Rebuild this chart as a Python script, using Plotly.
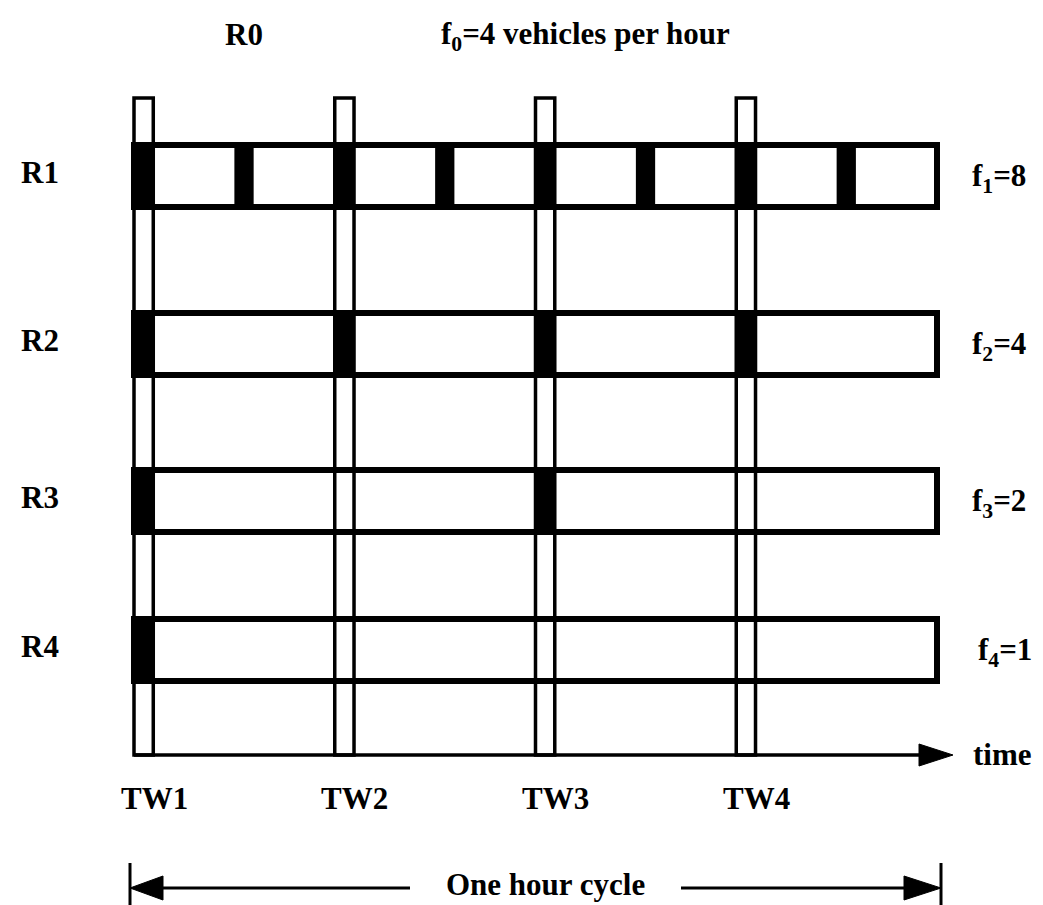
import plotly.graph_objects as go

# ---- data (times in hours) ----
ROUTES = ["R1", "R2", "R3", "R4"]
FREQUENCIES = [8, 4, 2, 1]          # vehicles per hour
R0_FREQUENCY = 4
TIME_WINDOWS = ["TW1", "TW2", "TW3", "TW4"]
TW_START = [0.0, 0.25, 0.5, 0.75]
R1_DEPARTURES = [0.0, 0.125, 0.25, 0.375, 0.5, 0.625, 0.75, 0.875]
R2_DEPARTURES = [0.0, 0.25, 0.5, 0.75]
R3_DEPARTURES = [0.0, 0.5]
R4_DEPARTURES = [0.0]
CYCLE = 1.0
DEPARTURES = [R1_DEPARTURES, R2_DEPARTURES, R3_DEPARTURES, R4_DEPARTURES]

# ---- layout ----
W, H = 1043, 905
X0_PX = 126
PX_PER_HOUR = 803
ROW_Y = [168, 336, 493, 642]
BOX_HALF = 31
DWELL = 0.024
TW_TOP = 90
AXIS_Y = 747
FONT = "Liberation Serif"


def hrs(px):
    """pixel length -> hours on the x axis"""
    return px / PX_PER_HOUR


def at(px):
    """pixel position -> hours on the x axis"""
    return (px - X0_PX) / PX_PER_HOUR


fig = go.Figure()
shapes = []

# time windows (thin outlined columns)
for tw in TW_START:
    shapes.append(dict(type="rect", x0=tw, x1=tw + DWELL, y0=TW_TOP, y1=AXIS_Y,
                       line=dict(color="black", width=3.5), fillcolor="rgba(0,0,0,0)"))

# departure marks
for y, deps in zip(ROW_Y, DEPARTURES):
    for d in deps:
        shapes.append(dict(type="rect", x0=d, x1=d + DWELL, y0=y - BOX_HALF - 2, y1=y + BOX_HALF + 2,
                           line=dict(width=0), fillcolor="black"))

# route boxes spanning one hour
for y in ROW_Y:
    shapes.append(dict(type="rect", x0=0, x1=CYCLE, y0=y - BOX_HALF, y1=y + BOX_HALF,
                       line=dict(color="black", width=6), fillcolor="rgba(0,0,0,0)"))

# time axis with arrow
tip = CYCLE + hrs(16)
base = tip - hrs(34)
shapes.append(dict(type="line", x0=0, x1=base, y0=AXIS_Y, y1=AXIS_Y,
                   line=dict(color="black", width=3.5)))
shapes.append(dict(type="path", path=f"M {base} {AXIS_Y - 11} L {tip} {AXIS_Y} L {base} {AXIS_Y + 11} Z",
                   fillcolor="black", line=dict(color="black", width=1)))

# one hour cycle dimension
CY = 880
left_bar = 0 - hrs(4)
right_bar = CYCLE + hrs(4)
for xb in (left_bar, right_bar):
    shapes.append(dict(type="line", x0=xb, x1=xb, y0=855, y1=905,
                       line=dict(color="black", width=3)))
lb = left_bar + hrs(33)
rb = right_bar - hrs(37)
shapes.append(dict(type="path", path=f"M {lb} {CY - 12} L {left_bar} {CY} L {lb} {CY + 12} Z",
                   fillcolor="black", line=dict(color="black", width=1)))
shapes.append(dict(type="path", path=f"M {rb} {CY - 12} L {right_bar} {CY} L {rb} {CY + 12} Z",
                   fillcolor="black", line=dict(color="black", width=1)))
shapes.append(dict(type="line", x0=lb, x1=at(402), y0=CY, y1=CY, line=dict(color="black", width=3)))
shapes.append(dict(type="line", x0=at(673), x1=rb, y0=CY, y1=CY, line=dict(color="black", width=3)))

annotations = []


def label(text, x, y, size=31):
    annotations.append(dict(text=text, x=x, y=y, xref="x", yref="y",
                            showarrow=False, xanchor="center", yanchor="middle",
                            font=dict(family=FONT, size=size, color="black", weight="bold")))


label("R0", at(236), 26)
label(f"f<sub>0</sub>={R0_FREQUENCY} vehicles per hour", at(577), 28)
for i, (name, f, y) in enumerate(zip(ROUTES, FREQUENCIES, ROW_Y)):
    label(name, at(32), y - 4)
    label(f"f<sub>{i + 1}</sub>={f}", at(991 if i < 3 else 997), y + 2)
for name, tw in zip(TIME_WINDOWS, TW_START):
    label(name, tw + hrs(20), 790)
label("time", at(994), AXIS_Y - 1)
label("One hour cycle", CYCLE / 2 + hrs(10), 876)

fig.update_layout(
    width=W, height=H, autosize=False,
    margin=dict(l=0, r=0, t=0, b=0),
    paper_bgcolor="white", plot_bgcolor="white",
    xaxis=dict(range=[at(0), at(W)], visible=False, fixedrange=True),
    yaxis=dict(range=[H, 0], visible=False, fixedrange=True),
    shapes=shapes, annotations=annotations, showlegend=False,
)

fig.write_html("out.html")
